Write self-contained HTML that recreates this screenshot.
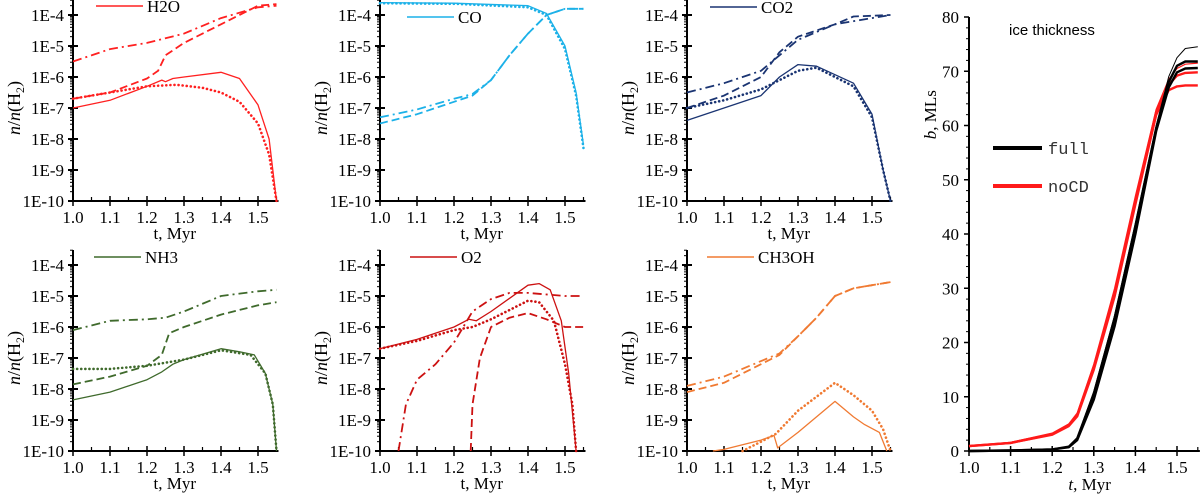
<!DOCTYPE html>
<html><head><meta charset="utf-8"><style>
body{margin:0;background:#fff;}
svg{display:block;font-family:"Liberation Serif",serif;}
</style></head><body>
<svg id="chart" width="1200" height="499" viewBox="0 0 1200 499" xmlns="http://www.w3.org/2000/svg"></svg>
<script>
// ---- data: abundance panels (t in Myr, value as log10 n/n(H2)) ----
const xTicks = [1.0, 1.1, 1.2, 1.3, 1.4, 1.5];
const xTickLabels = ["1.0", "1.1", "1.2", "1.3", "1.4", "1.5"];
const yLogTicks = [-4, -5, -6, -7, -8, -9, -10];
const yLogLabels = ["1E-4", "1E-5", "1E-6", "1E-7", "1E-8", "1E-9", "1E-10"];

const h2oSolidT = [1.0,1.1,1.2,1.24,1.25,1.27,1.3,1.4,1.45,1.5,1.53,1.55];
const h2oSolidV = [-7,-6.75,-6.3,-6.1,-6.15,-6.05,-6.0,-5.85,-6.05,-6.9,-8,-10];
const h2oDotT = [1.0,1.1,1.2,1.28,1.35,1.4,1.45,1.5,1.53,1.55];
const h2oDotV = [-6.7,-6.5,-6.3,-6.25,-6.35,-6.5,-6.8,-7.5,-8.5,-10];
const h2oDashT = [1.0,1.1,1.2,1.23,1.25,1.3,1.4,1.5,1.55];
const h2oDashV = [-6.7,-6.5,-6.05,-5.8,-5.3,-4.9,-4.3,-3.7,-3.65];
const h2oDdT = [1.0,1.1,1.2,1.3,1.4,1.5,1.55];
const h2oDdV = [-5.5,-5.1,-4.9,-4.6,-4.1,-3.75,-3.7];

const coSolidT = [1.0,1.2,1.4,1.45,1.5,1.53,1.55];
const coSolidV = [-3.6,-3.62,-3.7,-3.95,-5.0,-6.5,-8.2];
const coDotT = [1.0,1.2,1.4,1.45,1.5,1.53,1.55];
const coDotV = [-3.62,-3.64,-3.75,-4.0,-5.1,-6.6,-8.3];
const coDashT = [1.0,1.1,1.2,1.25,1.3,1.35,1.4,1.45,1.5,1.55];
const coDashV = [-7.5,-7.2,-6.8,-6.6,-6.1,-5.3,-4.6,-4.0,-3.8,-3.8];
const coDdT = [1.0,1.1,1.2,1.25,1.3,1.35,1.4,1.45,1.5,1.55];
const coDdV = [-7.3,-7.05,-6.7,-6.55,-6.1,-5.3,-4.6,-4.0,-3.8,-3.8];

const co2SolidT = [1.0,1.1,1.2,1.25,1.3,1.35,1.45,1.5,1.53,1.55];
const co2SolidV = [-7.4,-7.0,-6.6,-6.0,-5.6,-5.65,-6.2,-7.2,-9,-10];
const co2DotT = [1.0,1.1,1.2,1.3,1.35,1.45,1.5,1.53,1.55];
const co2DotV = [-7.0,-6.75,-6.4,-5.8,-5.7,-6.3,-7.3,-9,-10];
const co2DashT = [1.0,1.1,1.2,1.25,1.3,1.4,1.45,1.55];
const co2DashV = [-7.0,-6.6,-6.0,-5.2,-4.7,-4.3,-4.05,-4.0];
const co2DdT = [1.0,1.1,1.2,1.25,1.3,1.4,1.55];
const co2DdV = [-6.5,-6.2,-5.8,-5.3,-4.8,-4.3,-4.0];

const nh3SolidT = [1.0,1.1,1.2,1.24,1.27,1.3,1.4,1.45,1.49,1.52,1.54,1.55];
const nh3SolidV = [-8.35,-8.1,-7.7,-7.45,-7.2,-7.05,-6.7,-6.8,-6.9,-7.5,-8.5,-10];
const nh3DotT = [1.0,1.1,1.2,1.3,1.4,1.48,1.52,1.54,1.55];
const nh3DotV = [-7.35,-7.35,-7.25,-7.05,-6.75,-6.9,-7.5,-8.5,-10];
const nh3DashT = [1.0,1.1,1.2,1.24,1.26,1.3,1.4,1.5,1.55];
const nh3DashV = [-7.85,-7.6,-7.25,-6.9,-6.2,-6.0,-5.6,-5.3,-5.2];
const nh3DdT = [1.0,1.1,1.2,1.25,1.3,1.4,1.5,1.55];
const nh3DdV = [-6.1,-5.8,-5.75,-5.7,-5.5,-5.0,-4.85,-4.8];

const o2SolidT = [1.0,1.1,1.2,1.24,1.26,1.3,1.4,1.43,1.46,1.49,1.51,1.53];
const o2SolidV = [-6.7,-6.4,-6.0,-5.75,-5.8,-5.5,-4.65,-4.6,-4.8,-5.8,-7.5,-10];
const o2DotT = [1.0,1.1,1.2,1.25,1.3,1.4,1.43,1.47,1.5,1.52,1.53];
const o2DotV = [-6.7,-6.45,-6.1,-6.0,-5.75,-5.15,-5.2,-5.8,-7.2,-8.5,-10];
const o2DashT = [1.245,1.25,1.27,1.3,1.35,1.4,1.45,1.5,1.55];
const o2DashV = [-10,-8.5,-7.0,-6.0,-5.7,-5.55,-5.75,-6.0,-6.0];
const o2DdT = [1.05,1.07,1.1,1.15,1.2,1.25,1.3,1.35,1.4,1.5,1.55];
const o2DdV = [-10,-8.5,-7.7,-7.2,-6.5,-5.5,-5.1,-4.9,-4.9,-5.0,-5.0];

const mSolidT = [1.07,1.1,1.2,1.235,1.245,1.3,1.35,1.4,1.45,1.48,1.52,1.54];
const mSolidV = [-10,-9.95,-9.65,-9.5,-9.9,-9.4,-8.9,-8.4,-8.9,-9.15,-9.4,-10];
const mDotT = [1.15,1.2,1.24,1.3,1.4,1.45,1.5,1.53,1.55];
const mDotV = [-10,-9.7,-9.45,-8.7,-7.8,-8.2,-8.7,-9.3,-10];
const mDashT = [1.0,1.1,1.2,1.25,1.3,1.35,1.4,1.45,1.5,1.55];
const mDashV = [-8.1,-7.8,-7.2,-6.9,-6.3,-5.7,-5.0,-4.75,-4.65,-4.55];
const mDdT = [1.0,1.1,1.2,1.25,1.3,1.35,1.4,1.45,1.5,1.55];
const mDdV = [-7.9,-7.6,-7.1,-6.85,-6.3,-5.7,-5.0,-4.75,-4.65,-4.55];

// ---- data: ice thickness panel ----
const bTicks = [0,10,20,30,40,50,60,70,80];
const bTimes = [1.0,1.1,1.2,1.24,1.26,1.3,1.35,1.4,1.45,1.48,1.5,1.52,1.55];
const fullA = [0,0.1,0.3,0.8,2.5,11,25,42,60,69,72.5,74.2,74.5];
const fullB = [0,0.1,0.3,0.8,2.3,10.5,24.5,41.5,59.5,68,71,71.8,71.8];
const fullC = [0,0.1,0.3,0.7,2.0,9.5,23,40,59,67,69.8,70.5,70.6];
const noA = [0.9,1.6,3.3,5.0,7.0,16,30,47,63,68.5,70.5,71.3,71.5];
const noB = [0.9,1.5,3.1,4.8,6.6,15.5,29,46,62.5,67.5,69.2,69.7,69.8];
const noC = [0.9,1.5,3.0,4.6,6.4,15,28.5,45.5,62,66.5,67.2,67.4,67.4];

const NS = "http://www.w3.org/2000/svg";
const svg = document.getElementById("chart");
function mk(tag, attrs, parent, text){
  const e = document.createElementNS(NS, tag);
  for (const k in attrs) e.setAttribute(k, attrs[k]);
  if (text !== undefined) e.textContent = text;
  (parent || svg).appendChild(e);
  return e;
}

const styles = {
  solid: {w:1.3, dash:null, cap:"butt"},
  dot: {w:2.6, dash:"0.1,4", cap:"round"},
  dash: {w:1.8, dash:"8,4", cap:"butt"},
  dd: {w:1.8, dash:"9,4,2,4", cap:"butt"}
};

function logPanel(name, label, color, x0, yTop, series, legendX, legendY){
  const g = mk("g", {});
  
  
  const sx = t => x0 + (t - 1.0) * 370;
  const sy = v => yTop + (-4 - v) * 31;
  const yBot = sy(-10);
  const xEnd = sx(1.55);
  const ax = mk("path", {d:`M${x0},${yTop-15} V${yBot} H${xEnd+2}`, stroke:"#000", "stroke-width":2, fill:"none"}, g);
  
  
  for (let i = 0; i < yLogTicks.length; i++){
    const y = sy(yLogTicks[i]);
    mk("line", {x1:x0-5, x2:x0+5, y1:y, y2:y, stroke:"#000", "stroke-width":2}, g);
    const tl = mk("text", {x:x0-9, y:y+6, "text-anchor":"end", "font-size":17}, g, yLogLabels[i]);
    
    
  }
  for (let d = -10; d < -3; d++){
    for (let m = 2; m <= 9; m++){
      const y = sy(d + Math.log10(m));
      if (y < yTop - 15) continue;
      mk("line", {x1:x0-3, x2:x0, y1:y, y2:y, stroke:"#000", "stroke-width":1}, g);
    }
  }
  for (let i = 0; i < xTicks.length; i++){
    const x = sx(xTicks[i]);
    mk("line", {x1:x, x2:x, y1:yBot-5, y2:yBot+5, stroke:"#000", "stroke-width":1.5}, g);
    mk("line", {x1:sx(xTicks[i]+0.05), x2:sx(xTicks[i]+0.05), y1:yBot-4, y2:yBot, stroke:"#000", "stroke-width":1.2}, g);
    const tl = mk("text", {x:x, y:yBot+22, "text-anchor":"middle", "font-size":17}, g, xTickLabels[i]);
    
    
  }
  const xt = mk("text", {x:sx(1.275), y:yBot+38, "text-anchor":"middle", "font-size":17}, g, "t, Myr");
  
  
  const yt = mk("text", {transform:`translate(${x0-53},${(yTop+yBot)/2}) rotate(-90)`, "text-anchor":"middle", "font-size":18}, g);
  
  
  mk("tspan", {"font-style":"italic"}, yt, "n");
  mk("tspan", {}, yt, "/");
  mk("tspan", {"font-style":"italic"}, yt, "n");
  mk("tspan", {}, yt, "(H");
  mk("tspan", {"font-size":12, dy:4}, yt, "2");
  mk("tspan", {dy:-4}, yt, ")");
  for (const s of series){
    const st = styles[s.kind];
    const pts = s.t.map((t, i) => `${sx(t).toFixed(1)},${sy(s.v[i]).toFixed(1)}`).join(" ");
    const a = {points:pts, fill:"none", stroke:color, "stroke-width":st.w, "stroke-linecap":st.cap, "stroke-linejoin":"round"};
    if (st.dash) a["stroke-dasharray"] = st.dash;
    const p = mk("polyline", a, g);
    
    
  }
  const ll = mk("line", {x1:legendX, x2:legendX+47, y1:legendY, y2:legendY, stroke:color, "stroke-width":1.5}, g);
  
  
  const lt = mk("text", {x:legendX+51, y:legendY+6, "font-size":17}, g, label);
  
  
}

const S = (kind, t, v) => ({kind, t, v});
logPanel("h2o", "H2O", "#ff2020", 73, 15, [S("solid",h2oSolidT,h2oSolidV),S("dot",h2oDotT,h2oDotV),S("dash",h2oDashT,h2oDashV),S("dd",h2oDdT,h2oDdV)], 96, 6);
logPanel("co", "CO", "#1cb1e8", 380, 15, [S("solid",coSolidT,coSolidV),S("dot",coDotT,coDotV),S("dash",coDashT,coDashV),S("dd",coDdT,coDdV)], 407, 17);
logPanel("co2", "CO2", "#1a3472", 687, 15, [S("solid",co2SolidT,co2SolidV),S("dot",co2DotT,co2DotV),S("dash",co2DashT,co2DashV),S("dd",co2DdT,co2DdV)], 710, 7);
logPanel("nh3", "NH3", "#3f6a2c", 73, 265, [S("solid",nh3SolidT,nh3SolidV),S("dot",nh3DotT,nh3DotV),S("dash",nh3DashT,nh3DashV),S("dd",nh3DdT,nh3DdV)], 94, 257);
logPanel("o2", "O2", "#cc1111", 380, 265, [S("solid",o2SolidT,o2SolidV),S("dot",o2DotT,o2DotV),S("dash",o2DashT,o2DashV),S("dd",o2DdT,o2DdV)], 410, 257);
logPanel("ch3oh", "CH3OH", "#f07a32", 687, 265, [S("solid",mSolidT,mSolidV),S("dot",mDotT,mDotV),S("dash",mDashT,mDashV),S("dd",mDdT,mDdV)], 707, 257);

// ---- ice thickness panel ----
(function(){
  const g = mk("g", {});
  
  
  const x0 = 969, y0 = 451;
  const sx = t => x0 + (t - 1.0) * 416;
  const sy = v => y0 - v * 5.425;
  const ax = mk("path", {d:`M${x0},${sy(80)} V${y0} H${sx(1.555)}`, stroke:"#000", "stroke-width":2, fill:"none"}, g);
  
  
  for (let v = 0; v <= 80; v += 2){
    const major = v % 10 === 0;
    mk("line", {x1:x0-(major?5:3), x2:x0, y1:sy(v), y2:sy(v), stroke:"#000", "stroke-width":major?1.5:1}, g);
  }
  for (let i = 0; i < bTicks.length; i++){
    const tl = mk("text", {x:x0-10, y:sy(bTicks[i])+6, "text-anchor":"end", "font-size":17}, g, String(bTicks[i]));
    
    
  }
  for (let i = 0; i < xTicks.length; i++){
    const x = sx(xTicks[i]);
    mk("line", {x1:x, x2:x, y1:y0-5, y2:y0+5, stroke:"#000", "stroke-width":1.5}, g);
    mk("line", {x1:sx(xTicks[i]+0.05), x2:sx(xTicks[i]+0.05), y1:y0-4, y2:y0, stroke:"#000", "stroke-width":1.2}, g);
    const tl = mk("text", {x:x, y:y0+22, "text-anchor":"middle", "font-size":17}, g, xTickLabels[i]);
    
    
  }
  const xt = mk("text", {x:sx(1.29), y:y0+39, "text-anchor":"middle", "font-size":17}, g);
  
  
  mk("tspan", {"font-style":"italic"}, xt, "t");
  mk("tspan", {}, xt, ", Myr");
  const yt = mk("text", {transform:`translate(${x0-33},${sy(62)}) rotate(-90)`, "text-anchor":"middle", "font-size":17}, g);
  
  
  mk("tspan", {"font-style":"italic"}, yt, "b");
  mk("tspan", {}, yt, ", MLs");
  const tt = mk("text", {x:1009, y:35, "font-size":15, "font-family":"Liberation Sans, sans-serif"}, g, "ice thickness");
  
  
  const lines = [[noA,"#ff1a1a",1.2],[noB,"#ff1a1a",2.4],[noC,"#ff1a1a",2.4],[fullA,"#000",1],[fullB,"#000",2.4],[fullC,"#000",2.4]];
  for (const [vals, col, w] of lines){
    const pts = bTimes.map((t, i) => `${sx(t).toFixed(1)},${sy(vals[i]).toFixed(1)}`).join(" ");
    const p = mk("polyline", {points:pts, fill:"none", stroke:col, "stroke-width":w, "stroke-linejoin":"round"}, g);
    
    
  }
  const legend = [["full","#000",148],["noCD","#ff1a1a",186]];
  for (const [lab, col, y] of legend){
    const l = mk("line", {x1:993, x2:1042, y1:y, y2:y, stroke:col, "stroke-width":4}, g);
    
    
    const t = mk("text", {x:1048, y:y+6, "font-size":17, "font-family":"Liberation Mono, monospace", fill:"#333"}, g, lab);
    
    
  }
})();
</script>
</body></html>
